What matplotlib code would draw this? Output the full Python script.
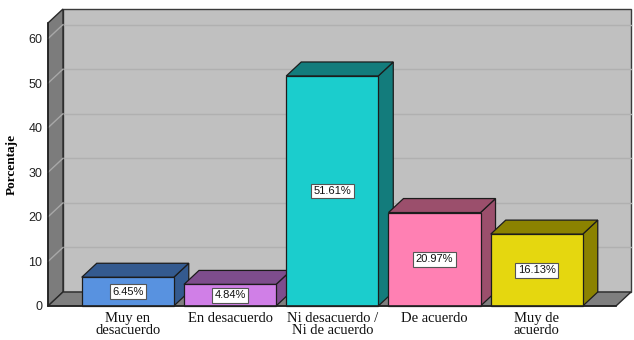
import matplotlib
matplotlib.use("Agg")
import matplotlib.pyplot as plt
from matplotlib.patches import Polygon, Rectangle

# Data
categorias = ["Muy en\ndesacuerdo", "En desacuerdo", "Ni desacuerdo /\nNi de acuerdo",
              "De acuerdo", "Muy de\nacuerdo"]
porcentajes = [6.45, 4.84, 51.61, 20.97, 16.13]
etiquetas = ["6.45%", "4.84%", "51.61%", "20.97%", "16.13%"]
y_ticks = [0, 10, 20, 30, 40, 50, 60]

# Styles
colores = ["#5892E0", "#D07FE7", "#1BCDCD", "#FF80B3", "#E5D70F"]
sombras = ["#345A8F", "#7E4D8D", "#137C7C", "#9B4F6C", "#8B8200"]
EDGE = "#1c1c1c"

W, H = 634, 340
fig = plt.figure(figsize=(W / 100, H / 100), dpi=100)
ax = fig.add_axes([48 / W, 34 / H, 568 / W, 283 / H])

ymax = 63.5
x0, x1 = -0.78, 4.775
ax.set_xlim(x0, x1)
ax.set_ylim(0, ymax)

# depth of the 3d look, pixels -> data units
dx = 15 * (x1 - x0) / 568
dy = 14 * ymax / 283
bw = 0.90

# back wall
ax.add_patch(Rectangle((x0 + dx, dy), x1 - x0, ymax, fc="#C0C0C0", ec="#3a3a3a",
                       lw=1, clip_on=False, zorder=0.1))
# left wall
ax.add_patch(Polygon([(x0, 0), (x0 + dx, dy), (x0 + dx, ymax + dy), (x0, ymax)],
                     closed=True, fc="#7C7C7C", ec="#2a2a2a", lw=1, clip_on=False, zorder=0.2))
# floor
ax.add_patch(Polygon([(x0, 0), (x1, 0), (x1 + dx, dy), (x0 + dx, dy)],
                     closed=True, fc="#7F7F7F", ec="#2a2a2a", lw=1, clip_on=False, zorder=0.2))

# grid lines on back and left walls
for t in y_ticks[1:]:
    ax.plot([x0 + dx, x1 + dx], [t + dy, t + dy], color="#B0B0B0", lw=1,
            clip_on=False, zorder=0.15)
    ax.plot([x0, x0 + dx], [t, t + dy], color="#A8A8A8", lw=1,
            clip_on=False, zorder=0.25)

# bars, left to right so each front face covers the previous side face
for i, (v, c, s, lab) in enumerate(zip(porcentajes, colores, sombras, etiquetas)):
    xa, xb = i - bw / 2, i + bw / 2
    z = 1 + i * 0.1
    ax.add_patch(Polygon([(xb, 0), (xb + dx, dy), (xb + dx, v + dy), (xb, v)], closed=True,
                         fc=s, ec=EDGE, lw=0.9, clip_on=False, zorder=z))
    ax.add_patch(Polygon([(xa, v), (xb, v), (xb + dx, v + dy), (xa + dx, v + dy)], closed=True,
                         fc=s, ec=EDGE, lw=0.9, clip_on=False, zorder=z))
    ax.add_patch(Rectangle((xa, 0), bw, v, fc=c, ec=EDGE, lw=0.9, clip_on=False, zorder=z + 0.01))
    ax.text(i, v / 2, lab, ha="center", va="center", fontsize=8, family="Liberation Sans",
            color="#111111", zorder=z + 0.05,
            bbox=dict(boxstyle="square,pad=0.22", fc="white", ec="#555555", lw=0.8))

for side in ["top", "right"]:
    ax.spines[side].set_visible(False)
for side in ["left", "bottom"]:
    ax.spines[side].set_color("#222222")
    ax.spines[side].set_linewidth(1.2)
    ax.spines[side].set_zorder(3)

ax.set_yticks(y_ticks)
ax.set_yticklabels([str(t) for t in y_ticks], family="Liberation Sans", fontsize=9, color="#222222")
ax.set_xticks(range(len(categorias)))
ax.set_xticklabels(categorias, family="Liberation Serif", fontsize=10.5, color="#111111",
                   linespacing=0.95)
ax.tick_params(axis="y", length=0, pad=4)
ax.tick_params(axis="x", length=0, pad=4)

ax.set_ylabel("Porcentaje", family="Liberation Serif", fontweight="bold", fontsize=9.5,
              labelpad=8)

fig.savefig("out.png", dpi=100)
